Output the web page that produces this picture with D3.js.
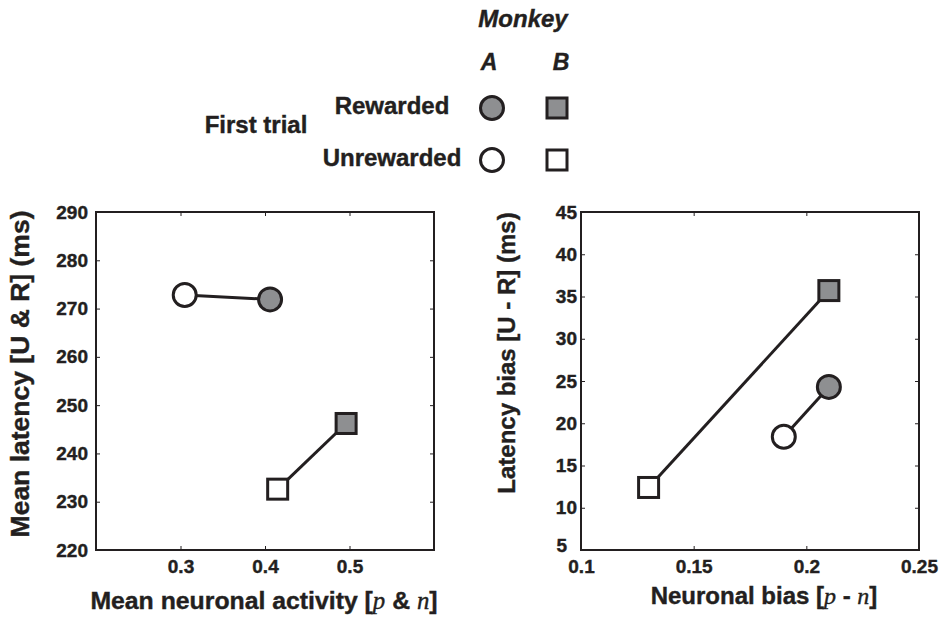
<!DOCTYPE html>
<html>
<head>
<meta charset="utf-8">
<script src="https://cdn.jsdelivr.net/npm/d3@7"></script>
<style>
  body { margin: 0; background: #fff; }
  text { font-family: "Liberation Sans", Arial, Helvetica, sans-serif; font-weight: bold; fill: #231f20;
         stroke: #231f20; stroke-width: 0.4px; paint-order: stroke; }
  .var { font-family: "Liberation Serif", "Times New Roman", serif; font-style: italic; font-weight: normal; }
</style>
</head>
<body>
<svg id="chart" width="941" height="620"></svg>
<script>
// Index 0 = rewarded first trial, index 1 = unrewarded first trial
const conditions = ["Rewarded", "Unrewarded"];
const monkeys = ["A", "B"];

// Left panel: mean neuronal activity vs mean latency
const activityA = [0.406, 0.305];
const latencyA = [271.9, 272.8];
const activityB = [0.496, 0.415];
const latencyB = [246.2, 232.6];

// Right panel: neuronal bias vs latency bias
const biasA = [0.210, 0.190];
const latencyBiasA = [24.3, 18.4];
const biasB = [0.210, 0.130];
const latencyBiasB = [35.7, 12.4];

// Axis ticks
const leftXTicks = [0.3, 0.4, 0.5];
const leftYTicks = [220, 230, 240, 250, 260, 270, 280, 290];
const rightXTicks = [0.1, 0.15, 0.2, 0.25];
const rightXLabels = ["0.1", "0.15", "0.2", "0.25"];
const rightYTicks = [5, 10, 15, 20, 25, 30, 35, 40, 45];

const ink = "#231f20";
const grey = "#8e8f91";
const fills = ["grey", "white"];   // rewarded filled, unrewarded open
const R = 11.5;                    // circle radius
const S = 20;                      // square side

const svg = d3.select("#chart");
svg.append("rect").attr("width", 941).attr("height", 620).attr("fill", "#fff");

function drawPanel(cfg) {
  const x = d3.scaleLinear().domain(cfg.xDomain).range([cfg.left, cfg.right]);
  const y = d3.scaleLinear().domain(cfg.yDomain).range([cfg.bottom, cfg.top]);
  const g = svg.append("g");

  const styleAxis = sel => {
    sel.select(".domain").remove();
    sel.selectAll(".tick line").attr("stroke", ink).attr("stroke-width", 1);
    sel.selectAll(".tick text").attr("font-size", cfg.tickFont).attr("fill", ink)
      .attr("font-family", null);
  };

  const xFmt = cfg.xLabels ? (d, i) => cfg.xLabels[i] : d3.format(".1f");

  g.append("g").attr("transform", `translate(0,${cfg.bottom})`)
    .call(d3.axisBottom(x).tickValues(cfg.xTicks).tickSize(-4).tickPadding(cfg.xPad).tickFormat(xFmt))
    .call(styleAxis);
  g.append("g").attr("transform", `translate(0,${cfg.top})`)
    .call(d3.axisTop(x).tickValues(cfg.xTicks).tickSize(-4).tickFormat(""))
    .call(styleAxis);
  const yAxis = g.append("g").attr("transform", `translate(${cfg.left},0)`)
    .call(d3.axisLeft(y).tickValues(cfg.yTicks).tickSize(-4).tickPadding(cfg.yPad).tickFormat(d3.format("d")))
    .call(styleAxis);
  if (cfg.lowestYShift) {
    // keep the lowest y label clear of the first x label at the corner
    yAxis.selectAll(".tick text").filter(d => d === cfg.yDomain[0])
      .attr("dx", cfg.lowestYShift[0]).attr("dy", cfg.lowestYShift[1]);
  }
  g.append("g").attr("transform", `translate(${cfg.right},0)`)
    .call(d3.axisRight(y).tickValues(cfg.yTicks).tickSize(-4).tickFormat(""))
    .call(styleAxis);

  // frame
  g.append("rect")
    .attr("x", cfg.left).attr("y", cfg.top)
    .attr("width", cfg.right - cfg.left).attr("height", cfg.bottom - cfg.top)
    .attr("fill", "none").attr("stroke", ink).attr("stroke-width", 2);

  // series: connecting line then markers
  cfg.series.forEach(s => {
    const pts = s.xs.map((v, i) => [x(v), y(s.ys[i])]);
    g.append("path").attr("d", d3.line()(pts))
      .attr("fill", "none").attr("stroke", ink).attr("stroke-width", 3);
    pts.forEach((p, i) => {
      const fill = fills[i] === "grey" ? grey : "#fff";
      if (s.shape === "circle") {
        g.append("circle").attr("cx", p[0]).attr("cy", p[1]).attr("r", R)
          .attr("fill", fill).attr("stroke", ink).attr("stroke-width", 3);
      } else {
        g.append("rect").attr("x", p[0] - S / 2).attr("y", p[1] - S / 2)
          .attr("width", S).attr("height", S)
          .attr("fill", fill).attr("stroke", ink).attr("stroke-width", 3);
      }
    });
  });

  // axis titles
  const xt = g.append("text").attr("x", cfg.xTitleX).attr("y", cfg.xTitleY)
    .attr("text-anchor", "middle").attr("font-size", cfg.xTitleFont);
  cfg.xTitle.forEach(part => {
    xt.append("tspan").attr("class", part.v ? "var" : null).text(part.t);
  });
  g.append("text")
    .attr("transform", `translate(${cfg.yTitleX},${cfg.yTitleY}) rotate(-90)`)
    .attr("text-anchor", "middle").attr("font-size", cfg.yTitleFont)
    .text(cfg.yTitle);
}

drawPanel({
  left: 96, right: 434, top: 212, bottom: 550,
  xDomain: [0.2, 0.6], yDomain: [220, 290],
  xTicks: leftXTicks, yTicks: leftYTicks,
  tickFont: 19, xPad: 10, yPad: 8, xTitleFont: 24.8, yTitleFont: 26.5,
  series: [
    { shape: "circle", xs: activityA, ys: latencyA },
    { shape: "square", xs: activityB, ys: latencyB }
  ],
  xTitle: [{ t: "Mean neuronal activity [" }, { t: "p", v: true }, { t: " & " }, { t: "n", v: true }, { t: "]" }],
  xTitleX: 264, xTitleY: 609,
  yTitle: "Mean latency [U & R] (ms)", yTitleX: 29, yTitleY: 374
});

drawPanel({
  left: 581, right: 919, top: 212, bottom: 550,
  xDomain: [0.1, 0.25], yDomain: [5, 45],
  xTicks: rightXTicks, xLabels: rightXLabels, yTicks: rightYTicks,
  tickFont: 19, xPad: 10, yPad: 4, xTitleFont: 24, yTitleFont: 24,
  lowestYShift: [-10, "0.1em"],
  series: [
    { shape: "circle", xs: biasA, ys: latencyBiasA },
    { shape: "square", xs: biasB, ys: latencyBiasB }
  ],
  xTitle: [{ t: "Neuronal bias [" }, { t: "p", v: true }, { t: " - " }, { t: "n", v: true }, { t: "]" }],
  xTitleX: 764, xTitleY: 604,
  yTitle: "Latency bias [U - R] (ms)", yTitleX: 515, yTitleY: 353
});

// Legend
const legend = svg.append("g");
legend.append("text").attr("x", 523).attr("y", 27).attr("text-anchor", "middle")
  .attr("font-size", 24).attr("font-style", "italic").text("Monkey");
const colX = [492, 557];
const headX = [489, 561];
monkeys.forEach((m, i) => {
  legend.append("text").attr("x", headX[i]).attr("y", 70).attr("text-anchor", "middle")
    .attr("font-size", 23).attr("font-style", "italic").text(m);
});
const rowY = [108, 160];
conditions.forEach((c, j) => {
  legend.append("text").attr("x", 392).attr("y", rowY[j] + 6).attr("text-anchor", "middle")
    .attr("font-size", 24).text(c);
  const fill = fills[j] === "grey" ? grey : "#fff";
  legend.append("circle").attr("cx", colX[0]).attr("cy", rowY[j]).attr("r", R)
    .attr("fill", fill).attr("stroke", ink).attr("stroke-width", 3);
  legend.append("rect").attr("x", colX[1] - S / 2).attr("y", rowY[j] - S / 2)
    .attr("width", S).attr("height", S)
    .attr("fill", fill).attr("stroke", ink).attr("stroke-width", 3);
});
legend.append("text").attr("x", 256).attr("y", 133).attr("text-anchor", "middle")
  .attr("font-size", 24).text("First trial");
</script>
</body>
</html>
